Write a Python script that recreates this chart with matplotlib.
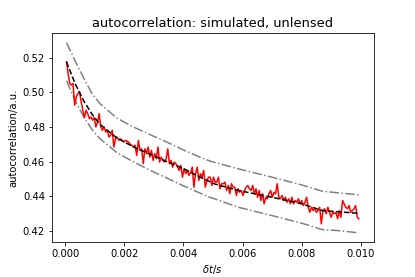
import numpy as np
import matplotlib
matplotlib.use('Agg')
import matplotlib.pyplot as plt

t_start, t_stop = 0.00005, 0.00993
measured = [
    0.5177, 0.5109, 0.5051, 0.5042, 0.5051, 0.4926, 0.4974, 0.4993, 0.5003, 0.4945,
    0.4897, 0.4854, 0.4897, 0.4877, 0.4848, 0.4858, 0.4839, 0.4854, 0.4800, 0.4829,
    0.4877, 0.4800, 0.4781, 0.4800, 0.4771, 0.4781, 0.4742, 0.4752, 0.4781, 0.4684,
    0.4732, 0.4742, 0.4723, 0.4732, 0.4723, 0.4713, 0.4723, 0.4718, 0.4713, 0.4700,
    0.4694, 0.4684, 0.4694, 0.4636, 0.4723, 0.4665, 0.4674, 0.4588, 0.4674, 0.4646,
    0.4684, 0.4626, 0.4665, 0.4607, 0.4646, 0.4617, 0.4684, 0.4597, 0.4626, 0.4607,
    0.4597, 0.4617, 0.4674, 0.4588, 0.4607, 0.4568, 0.4597, 0.4588, 0.4568, 0.4549,
    0.4578, 0.4510, 0.4559, 0.4530, 0.4549, 0.4520, 0.4539, 0.4568, 0.4452, 0.4530,
    0.4568, 0.4491, 0.4530, 0.4510, 0.4549, 0.4452, 0.4491, 0.4510, 0.4510,
    0.4462, 0.4510, 0.4481, 0.4481, 0.4510, 0.4443, 0.4472, 0.4472, 0.4481, 0.4433,
    0.4462, 0.4414, 0.4472, 0.4452, 0.4452, 0.4404, 0.4443, 0.4423, 0.4433, 0.4404,
    0.4433, 0.4452, 0.4462, 0.4443, 0.4433, 0.4462, 0.4414, 0.4443, 0.4394, 0.4433,
    0.4375, 0.4414, 0.4356, 0.4394, 0.4385, 0.4414, 0.4433, 0.4394, 0.4423, 0.4414,
    0.4472, 0.4394, 0.4385, 0.4404, 0.4375, 0.4394, 0.4365, 0.4385, 0.4356, 0.4394,
    0.4356, 0.4375, 0.4365, 0.4385, 0.4356, 0.4375, 0.4346, 0.4365, 0.4394, 0.4336,
    0.4307, 0.4336, 0.4317, 0.4327, 0.4307, 0.4317, 0.4336, 0.4240, 0.4317, 0.4327,
    0.4298, 0.4336, 0.4307, 0.4278, 0.4307, 0.4298, 0.4307, 0.4269, 0.4317, 0.4278,
    0.4375, 0.4356, 0.4336, 0.4327, 0.4346, 0.4307, 0.4317, 0.4327, 0.4346, 0.4278,
    0.4269,
]

# model curve (black dashed)
model_t = [0.00005, 0.00034, 0.00062, 0.0009, 0.00118, 0.00175, 0.00231, 0.00287,
           0.00344, 0.004, 0.0045, 0.00507, 0.00586, 0.00699, 0.008, 0.00869, 0.00993]
model = [0.5177, 0.5051, 0.4955, 0.4877, 0.4815, 0.4737, 0.4685, 0.4643,
         0.4600, 0.4560, 0.4515, 0.4470, 0.4433, 0.4394, 0.4356, 0.4317, 0.4301]

# upper / lower bounds (grey dash-dot)
band_t = [0.00005, 0.00034, 0.00062, 0.0009, 0.00118, 0.00175, 0.00231, 0.00287,
          0.00344, 0.004, 0.00456, 0.0049, 0.00586, 0.00699, 0.008, 0.00869, 0.00925, 0.00993]
upper = [0.5287, 0.5183, 0.5087, 0.4997, 0.4935, 0.4852, 0.4800, 0.4756,
         0.4713, 0.4667, 0.4626, 0.4603, 0.4558, 0.4510, 0.4465, 0.4429, 0.4419, 0.4408]
lower = [0.5067, 0.4955, 0.4862, 0.4788, 0.4732, 0.4652, 0.4599, 0.4550,
         0.4505, 0.4460, 0.4418, 0.4394, 0.4336, 0.4288, 0.4244, 0.4207, 0.4201, 0.4188]

t = np.linspace(t_start, t_stop, len(measured))

fig, ax = plt.subplots(figsize=(415 / 72, 277 / 72), dpi=72)
fig.subplots_adjust(left=0.125, right=0.9, top=0.88, bottom=0.125)
ax.plot(band_t, upper, color='grey', linestyle='-.', lw=1.5)
ax.plot(band_t, lower, color='grey', linestyle='-.', lw=1.5)
ax.plot(t, measured, color='red', lw=1.5)
ax.plot(model_t, model, color='black', linestyle='--', lw=1.5)

ax.set_title('autocorrelation: simulated, unlensed', fontsize=13)
ax.set_xlabel(r'$\delta t/s$')
ax.set_ylabel('autocorrelation/a.u.')

fig.savefig('out.png')
